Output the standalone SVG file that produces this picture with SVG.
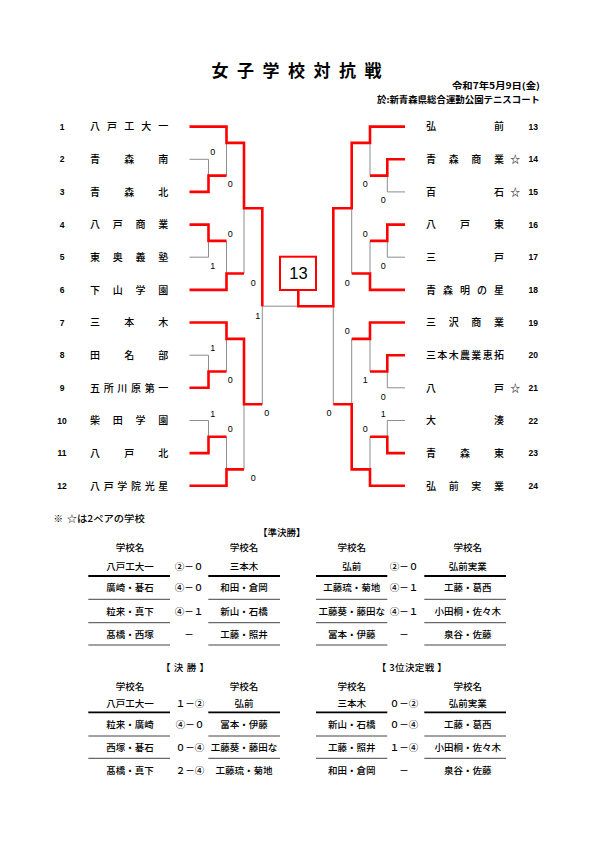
<svg xmlns="http://www.w3.org/2000/svg" width="595" height="842" viewBox="0 0 595 842">
<style>
text{font-family:"Noto Sans CJK JP","Liberation Sans",sans-serif;fill:#000}
.nm{font-size:10px;text-anchor:middle;font-weight:500}
.no{font-family:"Liberation Sans",sans-serif;font-size:8.5px;text-anchor:middle;font-weight:bold}
.sc{font-family:"Liberation Sans",sans-serif;font-size:9px;text-anchor:middle}
.r{fill:none;stroke:#ff0000;stroke-width:2.6;stroke-linejoin:miter}
.g{fill:none;stroke:#808080;stroke-width:0.9}
.tb{font-size:9.5px;text-anchor:middle;font-weight:500}
.l1{stroke:#000;stroke-width:1.8}
.l2{stroke:#444;stroke-width:1}
</style>
<rect width="595" height="842" fill="#fff"/>
<g id="title">
<text x="220 245.5 271 296.5 322 347.5 373" y="77" style="font-size:17px;font-weight:bold;text-anchor:middle">女子学校対抗戦</text>
<text x="540" y="88.5" style="font-size:9px;text-anchor:end;font-weight:bold" textLength="88" lengthAdjust="spacingAndGlyphs">令和7年5月9日(金)</text>
<text x="540" y="102.8" style="font-size:9px;text-anchor:end;font-weight:bold" textLength="163" lengthAdjust="spacingAndGlyphs">於:新青森県総合運動公園テニスコート</text>
</g>
<g id="connectors">
<path class="g" d="M189.5,159.3H208.5V175.6M226.5,142.9V175.6M189.5,257.2H208.5V240.9M226.5,240.9V273.5M244,208.2V273.5M189.5,355.2H208.5V371.5M226.5,338.9V371.5M189.5,420.5H208.5V436.8M226.5,436.8V469.4M244,404.2V469.4M262.3,306.2V404.2M262.3,306.2H298.3"/>
<path class="g" d="M405,191.9H387.3V175.6M370,142.9V175.6M405,257.2H387.3V240.9M370,240.9V273.5M351.7,208.2V273.5M405,387.8H387.3V371.5M370,338.9V371.5M405,420.5H387.3V436.8M370,436.8V469.4M351.7,338.9V404.2M333.3,306.2V404.2"/>
<path class="r" d="M189.5,191.9H208.5V175.6H226.5M189.5,126.6H226.5V142.9H244V208.2H262.3V306.2M189.5,224.6H208.5V240.9H226.5M189.5,289.9H226.5V273.5H244M189.5,387.8H208.5V371.5H226.5M189.5,322.5H226.5V338.9H244V404.2H262.3M189.5,453.1H208.5V436.8H226.5M189.5,485.8H226.5V469.4H244"/>
<path class="r" d="M405,159.3H387.3V175.6H370M405,126.6H370V142.9H351.7V208.2H333.3V306.2H298.3V290M405,224.6H387.3V240.9H370M405,289.9H370V273.5H351.7M405,355.2H387.3V371.5H370M405,322.5H370V338.9H351.7M405,453.1H387.3V436.8H370M405,485.8H370V469.4H351.7V404.2H333.3"/>
</g>
<g id="final">
<rect x="280" y="256.7" width="36" height="33.3" fill="#fff" stroke="#ff0000" stroke-width="2"/>
<text x="298.5" y="279.3" style="font-family:'Liberation Sans',sans-serif;font-size:16.5px;text-anchor:middle">13</text>
</g>
<g id="scores">
<text class="sc" x="212.7" y="154.9">0</text>
<text class="sc" x="230.3" y="186.5">0</text>
<text class="sc" x="230.3" y="236.5">0</text>
<text class="sc" x="212.7" y="268.9">1</text>
<text class="sc" x="253.3" y="285.5">0</text>
<text class="sc" x="257.7" y="318.9">1</text>
<text class="sc" x="212.7" y="350.9">1</text>
<text class="sc" x="230.3" y="383.2">0</text>
<text class="sc" x="266.7" y="415.9">0</text>
<text class="sc" x="212.7" y="416.5">1</text>
<text class="sc" x="230.3" y="431.5">0</text>
<text class="sc" x="253.3" y="480.9">0</text>
<text class="sc" x="365.3" y="186.5">0</text>
<text class="sc" x="383.3" y="203.2">0</text>
<text class="sc" x="365.3" y="236.5">0</text>
<text class="sc" x="383.3" y="268.9">0</text>
<text class="sc" x="347.3" y="285.5">0</text>
<text class="sc" x="347.3" y="334.2">0</text>
<text class="sc" x="365.3" y="383.2">1</text>
<text class="sc" x="383.3" y="399.9">0</text>
<text class="sc" x="383.3" y="416.5">1</text>
<text class="sc" x="365.3" y="431.5">0</text>
<text class="sc" x="329" y="415.5">0</text>
</g>
<g id="t1"><text class="no" x="62" y="129.6">1</text><text class="nm" x="95 112.1 129.2 146.2 163.3" y="130.4">八戸工大一</text></g>
<g id="t2"><text class="no" x="62" y="162.3">2</text><text class="nm" x="95 129.2 163.3" y="163.1">青森南</text></g>
<g id="t3"><text class="no" x="62" y="194.9">3</text><text class="nm" x="95 129.2 163.3" y="195.7">青森北</text></g>
<g id="t4"><text class="no" x="62" y="227.6">4</text><text class="nm" x="95 117.8 140.5 163.3" y="228.4">八戸商業</text></g>
<g id="t5"><text class="no" x="62" y="260.2">5</text><text class="nm" x="95 117.8 140.5 163.3" y="261">東奥義塾</text></g>
<g id="t6"><text class="no" x="62" y="292.9">6</text><text class="nm" x="95 117.8 140.5 163.3" y="293.7">下山学園</text></g>
<g id="t7"><text class="no" x="62" y="325.5">7</text><text class="nm" x="95 129.2 163.3" y="326.3">三本木</text></g>
<g id="t8"><text class="no" x="62" y="358.2">8</text><text class="nm" x="95 129.2 163.3" y="359">田名部</text></g>
<g id="t9"><text class="no" x="62" y="390.8">9</text><text class="nm" x="95 108.7 122.3 136 149.7 163.3" y="391.6">五所川原第一</text></g>
<g id="t10"><text class="no" x="62" y="423.5">10</text><text class="nm" x="95 117.8 140.5 163.3" y="424.3">柴田学園</text></g>
<g id="t11"><text class="no" x="62" y="456.1">11</text><text class="nm" x="95 129.2 163.3" y="456.9">八戸北</text></g>
<g id="t12"><text class="no" x="62" y="488.8">12</text><text class="nm" x="95 108.7 122.3 136 149.7 163.3" y="489.6">八戸学院光星</text></g>
<g id="t13"><text class="nm" x="431 499" y="130.4">弘前</text><text class="no" x="533.3" y="129.6">13</text></g>
<g id="t14"><text class="nm" x="431 453.7 476.3 499 515.3" y="163.1">青森商業☆</text><text class="no" x="533.3" y="162.3">14</text></g>
<g id="t15"><text class="nm" x="431 499 515.3" y="195.7">百石☆</text><text class="no" x="533.3" y="194.9">15</text></g>
<g id="t16"><text class="nm" x="431 465 499" y="228.4">八戸東</text><text class="no" x="533.3" y="227.6">16</text></g>
<g id="t17"><text class="nm" x="431 499" y="261">三戸</text><text class="no" x="533.3" y="260.2">17</text></g>
<g id="t18"><text class="nm" x="431 448 465 482 499" y="293.7">青森明の星</text><text class="no" x="533.3" y="292.9">18</text></g>
<g id="t19"><text class="nm" x="431 453.7 476.3 499" y="326.3">三沢商業</text><text class="no" x="533.3" y="325.5">19</text></g>
<g id="t20"><text class="nm" x="431 442.3 453.7 465 476.3 487.7 499" y="359">三本木農業恵拓</text><text class="no" x="533.3" y="358.2">20</text></g>
<g id="t21"><text class="nm" x="431 499 515.3" y="391.6">八戸☆</text><text class="no" x="533.3" y="390.8">21</text></g>
<g id="t22"><text class="nm" x="431 499" y="424.3">大湊</text><text class="no" x="533.3" y="423.5">22</text></g>
<g id="t23"><text class="nm" x="431 465 499" y="456.9">青森東</text><text class="no" x="533.3" y="456.1">23</text></g>
<g id="t24"><text class="nm" x="431 453.7 476.3 499" y="489.6">弘前実業</text><text class="no" x="533.3" y="488.8">24</text></g>
<g id="note">
<text x="58.3" y="521.8" style="font-size:9.5px;text-anchor:middle;font-weight:500">※</text>
<text x="66.7" y="521.8" style="font-size:9.5px;font-weight:500" textLength="78" lengthAdjust="spacingAndGlyphs">☆は2ペアの学校</text>
</g>
<g id="semifinal">
<text class="tb" x="281.7" y="535.8">【準決勝】</text>
<text class="tb" x="130" y="550.8">学校名</text><text class="tb" x="244" y="550.8">学校名</text><text class="tb" x="351.7" y="550.8">学校名</text><text class="tb" x="467.7" y="550.8">学校名</text>
<text class="tb" x="130" y="569.5">八戸工大一</text><text class="tb" x="189" y="569.5">②－０</text><text class="tb" x="244" y="569.5">三本木</text><text class="tb" x="351.7" y="569.5">弘前</text><text class="tb" x="404" y="569.5">②－０</text><text class="tb" x="467.7" y="569.5">弘前実業</text>
<text class="tb" x="130" y="590.8">廣崎・碁石</text><text class="tb" x="189" y="590.8">④－０</text><text class="tb" x="244" y="590.8">和田・倉岡</text><text class="tb" x="351.7" y="590.8">工藤琉・菊地</text><text class="tb" x="404" y="590.8">④－１</text><text class="tb" x="467.7" y="590.8">工藤・葛西</text>
<text class="tb" x="130" y="614.5">粒来・真下</text><text class="tb" x="189" y="614.5">④－１</text><text class="tb" x="244" y="614.5">新山・石橋</text><text class="tb" x="351.7" y="614.5">工藤葵・藤田な</text><text class="tb" x="404" y="614.5">④－１</text><text class="tb" x="467.7" y="614.5">小田桐・佐々木</text>
<text class="tb" x="130" y="637.8">髙橋・西塚</text><text class="tb" x="189" y="637.8">－</text><text class="tb" x="244" y="637.8">工藤・照井</text><text class="tb" x="351.7" y="637.8">冨本・伊藤</text><text class="tb" x="404" y="637.8">－</text><text class="tb" x="467.7" y="637.8">泉谷・佐藤</text>
<path class="l1" d="M88.3,576H170M208.3,576H280M316,576H387.3M424.3,576H506"/>
<path class="l2" d="M88.3,599.3H170M208.3,599.3H280M316,599.3H387.3M424.3,599.3H506M88.3,622.7H170M208.3,622.7H280M316,622.7H387.3M424.3,622.7H506M88.3,645H170M208.3,645H280M316,645H387.3M424.3,645H506"/>
</g>
<g id="final-table">
<text class="tb" x="185" y="670.8" xml:space="preserve" textLength="48" lengthAdjust="spacing">【 決 勝 】</text>
<text class="tb" x="411.7" y="670.8" xml:space="preserve" textLength="70" lengthAdjust="spacing">【 3位決定戦 】</text>
<text class="tb" x="130" y="690.2">学校名</text><text class="tb" x="244" y="690.2">学校名</text><text class="tb" x="351.7" y="690.2">学校名</text><text class="tb" x="467.7" y="690.2">学校名</text>
<text class="tb" x="130" y="706.8">八戸工大一</text><text class="tb" x="190" y="706.8">１－②</text><text class="tb" x="244" y="706.8">弘前</text><text class="tb" x="351.7" y="706.8">三本木</text><text class="tb" x="404" y="706.8">０－②</text><text class="tb" x="467.7" y="706.8">弘前実業</text>
<text class="tb" x="130" y="727.8">粒来・廣崎</text><text class="tb" x="190" y="727.8">④－０</text><text class="tb" x="244" y="727.8">冨本・伊藤</text><text class="tb" x="351.7" y="727.8">新山・石橋</text><text class="tb" x="404" y="727.8">０－④</text><text class="tb" x="467.7" y="727.8">工藤・葛西</text>
<text class="tb" x="130" y="750.8">西塚・碁石</text><text class="tb" x="190" y="750.8">０－④</text><text class="tb" x="244" y="750.8">工藤葵・藤田な</text><text class="tb" x="351.7" y="750.8">工藤・照井</text><text class="tb" x="404" y="750.8">１－④</text><text class="tb" x="467.7" y="750.8">小田桐・佐々木</text>
<text class="tb" x="130" y="773.5">髙橋・真下</text><text class="tb" x="190" y="773.5">２－④</text><text class="tb" x="244" y="773.5">工藤琉・菊地</text><text class="tb" x="351.7" y="773.5">和田・倉岡</text><text class="tb" x="404" y="773.5">－</text><text class="tb" x="467.7" y="773.5">泉谷・佐藤</text>
<path class="l1" d="M88.3,712.3H170M208.3,712.3H280M316,712.3H387.3M424.3,712.3H506"/>
<path class="l2" d="M88.3,736H170M208.3,736H280M316,736H387.3M424.3,736H506M88.3,758.3H170M208.3,758.3H280M316,758.3H387.3M424.3,758.3H506"/>
</g>
</svg>
